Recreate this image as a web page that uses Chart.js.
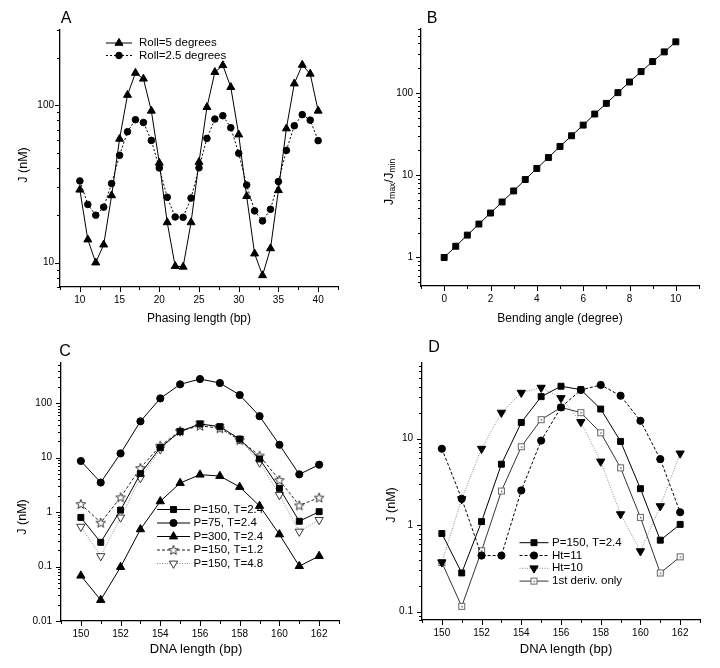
<!DOCTYPE html>
<html>
<head>
<meta charset="utf-8">
<script src="https://cdn.jsdelivr.net/npm/chart.js@4.4.1/dist/chart.umd.min.js"></script>
<style>
  body { margin: 0; background: #fff; }
  #fig { position: relative; width: 720px; height: 668px; font-family: "Liberation Sans", Arial, Helvetica, sans-serif; color: #000; }
  #fig canvas { position: absolute; }
  .lbl { position: absolute; white-space: nowrap; transform: translate(-50%, -50%); font-size: 12px; line-height: 1; }
  .big { font-size: 13px; }
  .rot { transform: translate(-50%, -50%) rotate(-90deg); font-size: 12.5px; }
  .letter { font-size: 16px; }
  sub { font-size: 8.5px; vertical-align: -2px; }
</style>
</head>
<body>
<div id="fig">
  <canvas id="chartA" width="360" height="334" style="left:0;top:0"></canvas>
  <canvas id="chartB" width="360" height="334" style="left:360px;top:0"></canvas>
  <canvas id="chartC" width="360" height="334" style="left:0;top:334px"></canvas>
  <canvas id="chartD" width="360" height="334" style="left:360px;top:334px"></canvas>

  <div class="lbl letter" style="left:66px;top:18px">A</div>
  <div class="lbl letter" style="left:432px;top:18px">B</div>
  <div class="lbl letter" style="left:65px;top:351px">C</div>
  <div class="lbl letter" style="left:434px;top:347px">D</div>

  <div class="lbl" style="left:199px;top:318px">Phasing length (bp)</div>
  <div class="lbl rot" style="left:23px;top:165px">J (nM)</div>
  <div class="lbl" style="left:560px;top:318px">Bending angle (degree)</div>
  <div class="lbl rot" style="left:389px;top:182px;font-size:13px">J<sub>max</sub>/J<sub>min</sub></div>
  <div class="lbl big" style="left:196px;top:648px">DNA length (bp)</div>
  <div class="lbl rot" style="left:22px;top:517px">J (nM)</div>
  <div class="lbl big" style="left:566px;top:648px">DNA length (bp)</div>
  <div class="lbl rot" style="left:391px;top:505px">J (nM)</div>
</div>
<script>
// ---- data ----
// A
const phasingLength = [10, 11, 12, 13, 14, 15, 16, 17, 18, 19, 20, 21, 22, 23, 24, 25, 26, 27, 28, 29, 30, 31, 32, 33, 34, 35, 36, 37, 38, 39, 40];
const roll5 = [29, 14, 10, 13, 26.7, 61, 116, 160, 147, 92, 43, 18, 9.5, 9.4, 18, 43.5, 97, 162, 179, 130, 65, 26.4, 11.4, 8.3, 12.3, 28.8, 71, 137, 180, 158, 92];
const roll25 = [33, 23.4, 20, 22.5, 31.8, 48, 67.8, 80.8, 77.6, 59.7, 39.9, 26, 19.5, 19.4, 25.7, 40, 61.5, 81.6, 85.7, 71.9, 49.4, 31.1, 21.3, 18.4, 21.8, 32.7, 51.6, 74, 87, 80.3, 59.5];
const ticksAx = [10, 15, 20, 25, 30, 35, 40];
const ticksAy = [10, 100];

// B
const bendingAngle = [0, 0.5, 1, 1.5, 2, 2.5, 3, 3.5, 4, 4.5, 5, 5.5, 6, 6.5, 7, 7.5, 8, 8.5, 9, 9.5, 10];
const jRatio = [1, 1.37, 1.87, 2.55, 3.47, 4.73, 6.44, 8.86, 12.1, 16.4, 22.4, 30.2, 40.7, 55.5, 74.8, 101, 136, 182, 241, 316, 419];
const ticksBx = [0, 2, 4, 6, 8, 10];
const ticksBy = [1, 10, 100];

// C
const dnaLength = [150, 151, 152, 153, 154, 155, 156, 157, 158, 159, 160, 161, 162];
const cP150T24 = [0.80, 0.279, 1.09, 5.1, 15.3, 30.5, 41.6, 37.2, 22, 9.5, 2.74, 0.68, 1.02];
const cP75T24 = [8.7, 3.5, 12, 46.6, 123, 223, 279, 236, 142, 58, 17.3, 4.95, 7.45];
const cP300T24 = [0.068, 0.0243, 0.098, 0.483, 1.58, 3.43, 4.88, 4.61, 2.9, 1.3, 0.39, 0.102, 0.156];
const cP150T12 = [1.41, 0.64, 1.87, 6.47, 16.6, 30.9, 38.7, 34.7, 21.1, 10.9, 3.89, 1.33, 1.85];
const cP150T48 = [0.54, 0.156, 0.80, 4.24, 14.3, 30.5, 42.8, 37.2, 22, 8.2, 2.07, 0.44, 0.72];
const ticksCx = [150, 152, 154, 156, 158, 160, 162];
const ticksCy = [0.01, 0.1, 1, 10, 100];

// D
const dP150T24 = [0.80, 0.28, 1.1, 5.07, 15.4, 30.6, 40.4, 36.9, 22, 9.3, 2.64, 0.67, 1.02];
const dHt11 = [7.65, 2.02, 0.445, 0.445, 2.52, 9.5, 23, 36.6, 41.8, 31.4, 16.1, 5.8, 1.41];
const dHt10 = [0.372, 2.0, 7.65, 20, 34, 38.9, 29.5, 15.6, 5.45, 1.34, 0.5, 1.66, 6.75];
const dFirstDeriv = [0.37, 0.115, 0.505, 2.48, 8.07, 16.6, 23, 20, 11.7, 4.6, 1.23, 0.28, 0.43];
const ticksDy = [0.1, 1, 10];

const FONT = '"Liberation Sans", Arial, Helvetica, sans-serif';
Chart.defaults.font.family = FONT;
Chart.defaults.color = '#000';

// open markers that Chart.js does not have
function starMarker() {
  const c = document.createElement('canvas');
  c.width = 12; c.height = 12;
  const g = c.getContext('2d');
  g.beginPath();
  for (let k = 0; k < 10; k++) {
    const r = k % 2 ? 2.1 : 5;
    const ang = -Math.PI / 2 + k * Math.PI / 5;
    g.lineTo(6 + r * Math.cos(ang), 6.4 + r * Math.sin(ang));
  }
  g.closePath();
  g.fillStyle = '#fff'; g.fill();
  g.strokeStyle = '#222'; g.lineWidth = 0.9; g.stroke();
  return c;
}
function dotSquareMarker() {
  const c = document.createElement('canvas');
  c.width = 9; c.height = 9;
  const g = c.getContext('2d');
  g.fillStyle = '#fff'; g.fillRect(1, 1, 7, 7);
  g.strokeStyle = '#666'; g.lineWidth = 1; g.strokeRect(1.5, 1.5, 6, 6);
  g.fillStyle = '#666'; g.fillRect(4, 4, 1.5, 1.5);
  return c;
}

function logTicks(min, max) {
  const out = [];
  for (let d = Math.floor(Math.log10(min)); d <= Math.ceil(Math.log10(max)); d++) {
    for (let m = 1; m <= 9; m++) {
      const v = parseFloat((m * Math.pow(10, d)).toPrecision(6));
      if (v >= min * 0.9999 && v <= max * 1.0001) out.push(v);
    }
  }
  return out;
}
function linTicks(min, max, step) {
  const out = [];
  for (let v = min; v <= max + 1e-9; v += step) out.push(parseFloat(v.toFixed(4)));
  return out;
}

// short tick marks, longer on labelled ticks
const tickMarks = {
  id: 'tickMarks',
  afterDraw(chart) {
    const ctx = chart.ctx, a = chart.chartArea;
    const xs = chart.scales.x, ys = chart.scales.y;
    ctx.save();
    ctx.strokeStyle = '#000';
    ctx.lineWidth = 1;
    xs.ticks.forEach(t => {
      const px = Math.round(xs.getPixelForValue(t.value)) + 0.5;
      ctx.beginPath();
      ctx.moveTo(px, a.bottom);
      ctx.lineTo(px, a.bottom + (t.label ? 5 : 3));
      ctx.stroke();
    });
    ys.ticks.forEach(t => {
      const py = Math.round(ys.getPixelForValue(t.value)) + 0.5;
      ctx.beginPath();
      ctx.moveTo(a.left, py);
      ctx.lineTo(a.left - (t.label ? 5 : 3), py);
      ctx.stroke();
    });
    ctx.restore();
  }
};

// legend drawn inside the plot like the original
const miniLegend = {
  id: 'miniLegend',
  afterDraw(chart, args, opts) {
    if (!opts || opts.x === undefined) return;
    const ctx = chart.ctx;
    ctx.save();
    ctx.font = '11.5px ' + FONT;
    ctx.textBaseline = 'middle';
    chart.data.datasets.forEach((ds, i) => {
      const y = opts.y + i * opts.dy;
      ctx.strokeStyle = ds.borderColor;
      ctx.lineWidth = ds.borderWidth;
      ctx.setLineDash(ds.borderDash || []);
      ctx.beginPath();
      ctx.moveTo(opts.x, y);
      ctx.lineTo(opts.x + opts.len, y);
      ctx.stroke();
      ctx.setLineDash([]);
      ctx.fillStyle = ds.pointBackgroundColor;
      ctx.strokeStyle = ds.pointBorderColor;
      ctx.lineWidth = ds.pointBorderWidth;
      Chart.helpers.drawPoint(ctx, {
        pointStyle: ds.pointStyle, radius: ds.pointRadius,
        rotation: ds.pointRotation || 0, borderWidth: ds.pointBorderWidth
      }, opts.x + opts.len / 2, y);
      ctx.fillStyle = '#000';
      ctx.fillText(ds.label, opts.x + opts.len + opts.gap, y);
    });
    ctx.restore();
  }
};

function series(label, xs, ys, st) {
  return Object.assign({
    label: label,
    data: xs.map((x, i) => ({ x: x, y: ys[i] })),
    borderColor: '#000',
    borderWidth: 1,
    borderDash: [],
    tension: 0,
    fill: false,
    pointBackgroundColor: '#000',
    pointBorderColor: '#000',
    pointBorderWidth: 1,
    pointRadius: 4
  }, st);
}

function makePanel(p) {
  const W = 360, H = 334, a = p.area;
  const xt = linTicks(p.xMin, p.xMax, p.xStep);
  const yt = logTicks(p.yMin, p.yMax);
  new Chart(document.getElementById(p.id), {
    type: 'line',
    data: { datasets: p.datasets },
    options: {
      responsive: false,
      animation: false,
      events: [],
      layout: { padding: { top: a.top, right: W - a.right, left: 0, bottom: 0 } },
      plugins: { legend: { display: false }, tooltip: { enabled: false }, miniLegend: p.legend || false },
      scales: {
        x: {
          type: 'linear', min: p.xMin, max: p.xMax,
          afterFit: s => { s.height = H - a.bottom; },
          afterBuildTicks: s => { s.ticks = xt.map(v => ({ value: v })); },
          grid: { display: true, drawOnChartArea: false, color: 'rgba(0,0,0,0)', tickLength: 5 },
          border: { display: true, color: '#000', width: 1.3 },
          ticks: {
            autoSkip: false, maxRotation: 0, padding: 2, font: { size: 10 }, color: '#000',
            callback: v => p.xLabels.includes(v) ? String(v) : ''
          }
        },
        y: {
          type: 'logarithmic', min: p.yMin, max: p.yMax,
          afterFit: s => { s.width = a.left; },
          afterBuildTicks: s => { s.ticks = yt.map(v => ({ value: v })); },
          grid: { display: true, drawOnChartArea: false, color: 'rgba(0,0,0,0)', tickLength: 5 },
          border: { display: true, color: '#000', width: 1.3 },
          ticks: {
            autoSkip: false, padding: p.yPad, font: { size: 10 }, color: '#000',
            callback: v => {
              const hit = p.yLabels.find(l => Math.abs(l - v) < l * 1e-6);
              return hit !== undefined ? String(hit) : '';
            }
          }
        }
      }
    },
    plugins: [tickMarks, miniLegend]
  });
}

const star = starMarker();
const dotSquare = dotSquareMarker();

makePanel({
  id: 'chartA', area: { left: 60, top: 30, right: 338, bottom: 287 },
  xMin: 7.5, xMax: 42.5, xStep: 2.5, xLabels: ticksAx,
  yMin: 7, yMax: 300, yLabels: ticksAy, yPad: 1,
  legend: { x: 106, y: 43, dy: 12.5, len: 26, gap: 7 },
  datasets: [
    series('Roll=5 degrees', phasingLength, roll5, { pointStyle: 'triangle', pointRadius: 4.6 }),
    series('Roll=2.5 degrees', phasingLength, roll25, { pointStyle: 'circle', pointRadius: 3.3, borderDash: [2, 2] })
  ]
});

makePanel({
  id: 'chartB', area: { left: 61, top: 29, right: 339, bottom: 286 },
  xMin: -1, xMax: 11, xStep: 1, xLabels: ticksBx,
  yMin: 0.45, yMax: 600, yLabels: ticksBy, yPad: 3,
  datasets: [
    series('Jmax/Jmin', bendingAngle, jRatio, { pointStyle: 'rect', pointRadius: 4.2 })
  ]
});

makePanel({
  id: 'chartC', area: { left: 61, top: 29, right: 339, bottom: 287 },
  xMin: 149, xMax: 163, xStep: 1, xLabels: ticksCx,
  yMin: 0.01, yMax: 550, yLabels: ticksCy, yPad: 4,
  legend: { x: 157, y: 175.5, dy: 13.5, len: 33, gap: 3.5 },
  datasets: [
    series('P=150, T=2.4', dnaLength, cP150T24, { pointStyle: 'rect', pointRadius: 4.2 }),
    series('P=75, T=2.4', dnaLength, cP75T24, { pointStyle: 'circle', pointRadius: 3.6 }),
    series('P=300, T=2.4', dnaLength, cP300T24, { pointStyle: 'triangle', pointRadius: 4.8 }),
    series('P=150, T=1.2', dnaLength, cP150T12, { pointStyle: star, borderDash: [3, 2], borderColor: '#222' }),
    series('P=150, T=4.8', dnaLength, cP150T48, {
      pointStyle: 'triangle', pointRotation: 180, pointRadius: 4.8,
      pointBackgroundColor: '#fff', pointBorderColor: '#222', pointBorderWidth: 0.9,
      borderDash: [1, 1.5], borderColor: '#888'
    })
  ]
});

makePanel({
  id: 'chartD', area: { left: 62, top: 29, right: 340, bottom: 286 },
  xMin: 149, xMax: 163, xStep: 1, xLabels: ticksCx,
  yMin: 0.08, yMax: 75, yLabels: ticksDy, yPad: 4,
  legend: { x: 159.5, y: 208.7, dy: 12.8, len: 29, gap: 3.5 },
  datasets: [
    series('P=150, T=2.4', dnaLength, dP150T24, { pointStyle: 'rect', pointRadius: 4.2 }),
    series('Ht=11', dnaLength, dHt11, { pointStyle: 'circle', pointRadius: 3.6, borderDash: [3, 2] }),
    series('Ht=10', dnaLength, dHt10, {
      pointStyle: 'triangle', pointRotation: 180, pointRadius: 4.8,
      borderDash: [1, 1.5], borderColor: '#888'
    }),
    series('1st deriv. only', dnaLength, dFirstDeriv, { pointStyle: dotSquare, borderColor: '#333' })
  ]
});
</script>
</body>
</html>
